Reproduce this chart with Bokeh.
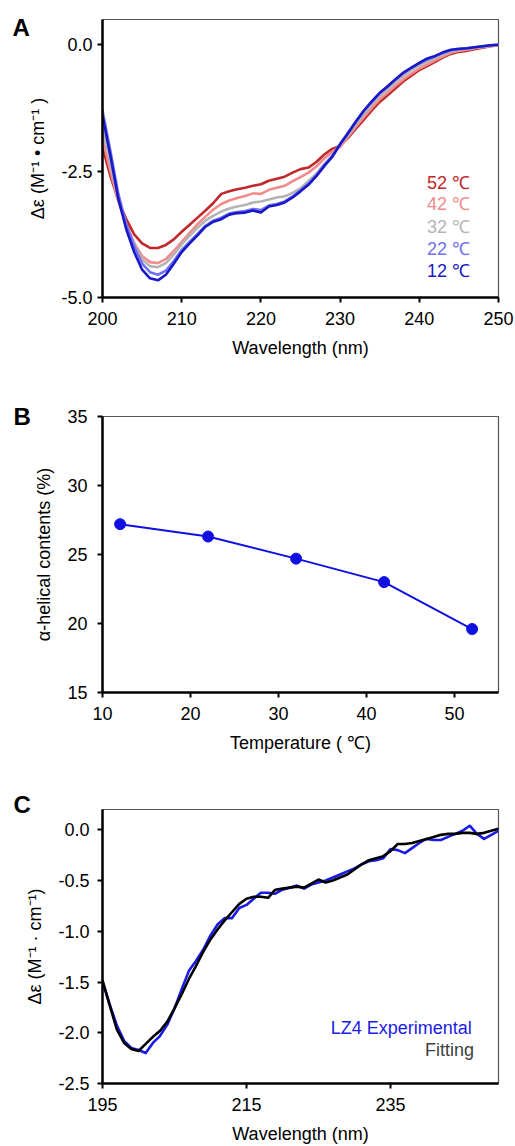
from bokeh.plotting import figure
from bokeh.layouts import column
from bokeh.models import Range1d, FixedTicker, Label, CustomJSTickFormatter
from bokeh.embed import file_html
from bokeh.resources import INLINE

# ---------------- Panel A data ----------------
wl_a = list(range(200, 251))
cd_52 = [-2.03, -2.60, -3.08, -3.45, -3.75, -3.93, -4.02, -4.02, -3.96, -3.85,
         -3.70, -3.56, -3.42, -3.28, -3.13, -2.95, -2.90, -2.86, -2.83, -2.79,
         -2.76, -2.69, -2.65, -2.61, -2.53, -2.46, -2.43, -2.32, -2.17, -2.06,
         -2.00, -1.84, -1.66, -1.48, -1.30, -1.13, -1.00, -0.86, -0.72, -0.61,
         -0.50, -0.42, -0.34, -0.25, -0.18, -0.14, -0.12, -0.09, -0.06, -0.03, -0.01]
cd_42 = [-1.85, -2.50, -3.10, -3.55, -3.92, -4.18, -4.30, -4.32, -4.24, -4.08,
         -3.90, -3.72, -3.55, -3.40, -3.26, -3.15, -3.08, -3.03, -2.99, -2.94,
         -2.95, -2.87, -2.83, -2.79, -2.70, -2.62, -2.53, -2.41, -2.25, -2.12,
         -2.02, -1.82, -1.62, -1.43, -1.25, -1.08, -0.95, -0.81, -0.68, -0.57,
         -0.47, -0.39, -0.31, -0.23, -0.16, -0.12, -0.10, -0.07, -0.05, -0.03, -0.01]
cd_32 = [-1.65, -2.35, -3.05, -3.55, -3.95, -4.25, -4.38, -4.40, -4.32, -4.15,
         -3.95, -3.78, -3.62, -3.48, -3.38, -3.30, -3.24, -3.20, -3.17, -3.12,
         -3.10, -3.06, -3.02, -3.00, -2.93, -2.84, -2.70, -2.55, -2.36, -2.20,
         -1.98, -1.78, -1.57, -1.37, -1.18, -1.01, -0.88, -0.74, -0.61, -0.50,
         -0.41, -0.33, -0.26, -0.19, -0.13, -0.10, -0.08, -0.06, -0.04, -0.02, 0.00]
cd_22 = [-1.30, -2.10, -2.95, -3.55, -3.98, -4.33, -4.50, -4.55, -4.47, -4.28,
         -4.06, -3.90, -3.74, -3.58, -3.48, -3.42, -3.34, -3.31, -3.29, -3.25,
         -3.27, -3.18, -3.15, -3.10, -3.00, -2.88, -2.75, -2.58, -2.38, -2.20,
         -1.96, -1.74, -1.52, -1.31, -1.13, -0.96, -0.83, -0.69, -0.56, -0.46,
         -0.37, -0.29, -0.23, -0.16, -0.11, -0.09, -0.07, -0.05, -0.03, -0.01, 0.00]
cd_12 = [-1.40, -2.20, -3.05, -3.65, -4.10, -4.45, -4.62, -4.66, -4.55, -4.33,
         -4.10, -3.93, -3.77, -3.60, -3.50, -3.45, -3.36, -3.33, -3.32, -3.28,
         -3.32, -3.20, -3.17, -3.12, -3.02, -2.90, -2.77, -2.60, -2.40, -2.22,
         -1.97, -1.75, -1.52, -1.30, -1.12, -0.95, -0.82, -0.68, -0.55, -0.45,
         -0.36, -0.27, -0.22, -0.15, -0.10, -0.08, -0.07, -0.05, -0.03, -0.01, 0.00]
temps_labels = ["52 ℃", "42 ℃", "32 ℃", "22 ℃", "12 ℃"]
temp_colors = ["#c0282a", "#f08c8c", "#b4b4b4", "#7070f0", "#1818c8"]

# ---------------- Panel B data ----------------
temperature = [12, 22, 32, 42, 52]
helical = [27.2, 26.3, 24.7, 23.0, 19.6]

# ---------------- Panel C data ----------------
wl_c = list(range(195, 251))
exp_lz4 = [-1.50, -1.72, -1.93, -2.08, -2.15, -2.17, -2.20, -2.10, -2.03, -1.92,
           -1.76, -1.57, -1.39, -1.29, -1.18, -1.04, -0.93, -0.87, -0.87, -0.77,
           -0.74, -0.68, -0.62, -0.62, -0.63, -0.59, -0.57, -0.55, -0.58, -0.54,
           -0.52, -0.50, -0.47, -0.44, -0.41, -0.38, -0.34, -0.31, -0.30, -0.28,
           -0.19, -0.20, -0.23, -0.18, -0.13, -0.09, -0.10, -0.10, -0.07, -0.04,
           -0.01, 0.04, -0.04, -0.09, -0.05, -0.01]
fit_lz4 = [-1.48, -1.73, -1.97, -2.10, -2.16, -2.18, -2.11, -2.04, -1.98, -1.89,
           -1.76, -1.62, -1.47, -1.34, -1.20, -1.08, -0.98, -0.89, -0.81, -0.73,
           -0.68, -0.66, -0.66, -0.67, -0.59, -0.58, -0.57, -0.56, -0.57, -0.53,
           -0.49, -0.52, -0.50, -0.47, -0.44, -0.39, -0.34, -0.30, -0.28, -0.26,
           -0.21, -0.14, -0.14, -0.13, -0.11, -0.09, -0.07, -0.05, -0.04, -0.04,
           -0.03, -0.03, -0.04, -0.03, -0.01, 0.01]

FONT = "Liberation Sans"
FS = "18px"


def style(p):
    p.outline_line_color = "#555555"
    p.outline_line_width = 1.2
    p.grid.visible = False
    p.background_fill_color = "white"
    p.border_fill_color = "white"
    for ax in (p.xaxis[0], p.yaxis[0]):
        ax.axis_line_color = "black"
        ax.axis_line_width = 2.5
        ax.major_tick_line_color = "black"
        ax.major_tick_line_width = 2
        ax.major_tick_in = 0
        ax.major_tick_out = 5
        ax.minor_tick_line_color = None
        ax.major_label_text_font = FONT
        ax.major_label_text_font_size = FS
        ax.major_label_text_color = "black"
        ax.axis_label_text_font = FONT
        ax.axis_label_text_font_size = FS
        ax.axis_label_text_font_style = "normal"
        ax.axis_label_text_color = "black"
    p.xaxis.major_label_standoff = 9
    p.yaxis.major_label_standoff = 6
    p.xaxis.axis_label_standoff = 10
    p.yaxis.axis_label_standoff = 10


def letter(p, txt, x, y):
    # panel letter, placed in the left side panel (not clipped to the frame)
    p.add_layout(Label(x=x, y=y, x_units="canvas", y_units="canvas", text=txt,
                       text_font=FONT, text_font_size="24px",
                       text_font_style="bold", text_color="black",
                       text_align="left", text_baseline="middle"), "left")


W = 515
fmt1 = CustomJSTickFormatter(code="return tick.toFixed(1);")

# ---------------- Figure A ----------------
pa = figure(width=W, height=380, output_backend="svg", toolbar_location=None,
            x_range=Range1d(200, 250), y_range=Range1d(-5, 0.5),
            min_border_left=99, min_border_right=17, min_border_top=19, min_border_bottom=83)
style(pa)
pa.yaxis.major_label_standoff = 5
pa.xaxis.ticker = FixedTicker(ticks=[200, 210, 220, 230, 240, 250])
pa.yaxis.ticker = FixedTicker(ticks=[-5.0, -2.5, 0.0])
pa.yaxis.formatter = fmt1
pa.xaxis.axis_label = "Wavelength (nm)"
pa.yaxis.axis_label = "Δε (M⁻¹ • cm⁻¹ )"
series_a = [cd_52, cd_42, cd_32, cd_22, cd_12]
for ys, c in zip(series_a, temp_colors):
    pa.line(wl_a, ys, line_color=c, line_width=2.6, line_join="round")
leg_y = [-2.74, -3.16, -3.61, -4.04, -4.48]
for t, c, yv in zip(temps_labels, temp_colors, leg_y):
    pa.add_layout(Label(x=246.4, y=yv, text=t, text_font=FONT, text_font_size=FS,
                        text_color=c, text_align="right", text_baseline="middle"))
letter(pa, "A", 12, 27)

# ---------------- Figure B ----------------
pb = figure(width=W, height=395, output_backend="svg", toolbar_location=None,
            x_range=Range1d(10, 55), y_range=Range1d(15, 35),
            min_border_left=102, min_border_right=13, min_border_top=36, min_border_bottom=83)
style(pb)
pb.yaxis.major_label_standoff = 10
pb.xaxis.ticker = FixedTicker(ticks=[10, 20, 30, 40, 50])
pb.yaxis.ticker = FixedTicker(ticks=[15, 20, 25, 30, 35])
pb.xaxis.axis_label = "Temperature ( ℃)"
pb.yaxis.axis_label = "α-helical contents (%)"
pb.line(temperature, helical, line_color="#1010e0", line_width=2)
pb.scatter(temperature, helical, size=11, fill_color="#1010e0", line_color="#1010e0")
letter(pb, "B", 13, 36)

# ---------------- Figure C ----------------
pc = figure(width=W, height=371, output_backend="svg", toolbar_location=None,
            x_range=Range1d(195, 250), y_range=Range1d(-2.5, 0.2),
            min_border_left=96, min_border_right=17, min_border_top=34, min_border_bottom=59)
style(pc)
pc.yaxis.major_label_standoff = 8
pc.xaxis.ticker = FixedTicker(ticks=[195, 215, 235])
pc.yaxis.ticker = FixedTicker(ticks=[-2.5, -2.0, -1.5, -1.0, -0.5, 0.0])
pc.yaxis.formatter = fmt1
pc.xaxis.axis_label = "Wavelength (nm)"
pc.yaxis.axis_label = "Δε (M⁻¹ · cm⁻¹)"
pc.line(wl_c, exp_lz4, line_color="#1a1ae8", line_width=2.6, line_join="round")
pc.line(wl_c, fit_lz4, line_color="black", line_width=2.6, line_join="round")
pc.add_layout(Label(x=246.3, y=-1.95, text="LZ4 Experimental", text_font=FONT,
                    text_font_size=FS, text_color="#1a1ae8", text_align="right",
                    text_baseline="middle"))
pc.add_layout(Label(x=246.6, y=-2.17, text="Fitting", text_font=FONT,
                    text_font_size=FS, text_color="#404040", text_align="right",
                    text_baseline="middle"))
letter(pc, "C", 13, 29)

layout = column(pa, pb, pc, spacing=0)
open("out.html", "w").write(file_html(layout, INLINE))
